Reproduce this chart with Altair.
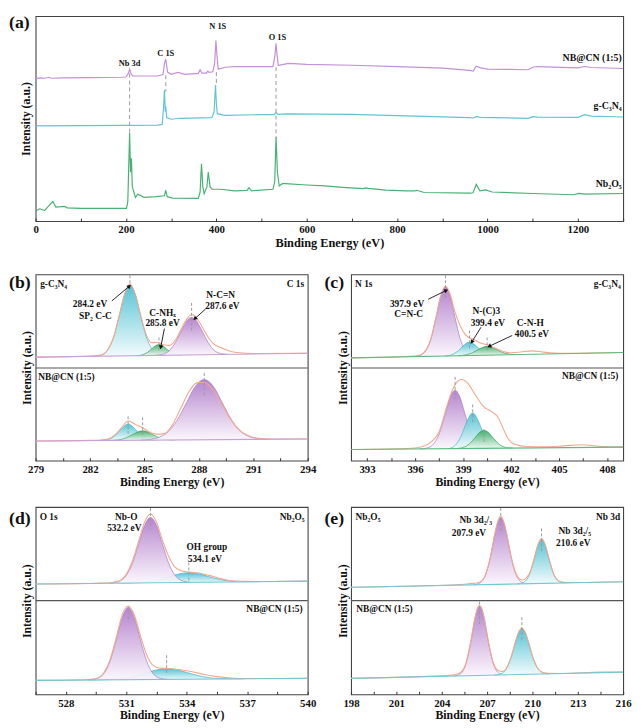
import math
import altair as alt
import pandas as pd

FONT = "'Liberation Serif', 'DejaVu Serif', serif"
INK = "#111111"

# ---------------- (a) survey spectra ----------------
sv_nbcn_ev = [0, 10, 20, 30, 35, 60, 120, 190, 200, 205, 208, 211, 215, 240, 270, 282, 285, 288, 290, 292,
              300, 315, 330, 360, 364, 368, 378, 381, 384, 392, 396, 399, 401, 404, 420, 440, 500, 525, 529, 532,
              534, 537, 545, 560, 600, 700, 800, 900, 960, 968, 975, 985, 1000, 1050, 1090, 1100, 1110, 1200, 1215, 1230,
              1300]
sv_nbcn_i = [146.0, 146.6, 146.3, 147.3, 146.3, 146.6, 147.0, 147.3, 147.6, 151.0, 155.6, 151.0, 148.6, 148.6, 148.6, 150.0, 161.0, 166.0, 159.3, 152.6,
             150.3, 152.3, 150.3, 151.3, 155.0, 151.6, 151.6, 153.6, 152.3, 153.0, 161.0, 185.0, 171.0, 155.6, 157.6, 158.3, 158.3, 158.3, 167.6, 182.0,
             171.0, 159.3, 160.3, 161.6, 160.6, 159.6, 158.3, 156.6, 154.3, 153.6, 158.6, 157.0, 155.6, 155.3, 155.0, 157.6, 158.3, 157.0, 158.3, 157.3,
             156.3]
sv_cn_ev = [0, 100, 200, 270, 280, 283, 285, 287, 288, 290, 300, 320, 390, 395, 398, 400, 402, 418, 500, 528,
            532, 536, 555, 700, 960, 968, 975, 985, 1090, 1100, 1110, 1200, 1215, 1230, 1300]
sv_cn_i = [97.6, 97.8, 98.0, 98.3, 99.0, 115.0, 134.3, 112.0, 117.6, 106.0, 104.3, 105.3, 106.0, 112.0, 139.3, 120.0, 110.0, 108.3, 109.0, 109.0,
           111.5, 109.3, 109.8, 109.3, 106.0, 105.6, 107.0, 106.3, 105.3, 107.0, 106.5, 106.3, 109.0, 107.5, 106.6]
sv_nb_ev = [0, 9, 15, 20, 38, 45, 64, 70, 100, 150, 201, 204, 208, 210, 212, 214, 221, 226, 240, 266,
            285, 288, 291, 303, 360, 364, 367, 370, 373, 379, 382, 386, 391, 410, 440, 468, 472, 478, 525, 529,
            532, 535, 539, 546, 552, 600, 640, 680, 725, 731, 736, 775, 820, 839, 843, 860, 960, 968, 975, 983,
            996, 1010, 1100, 1190, 1202, 1215, 1300]
sv_nb_i = [10.3, 12.6, 11.6, 11.0, 20.0, 14.3, 15.0, 13.6, 13.0, 13.0, 13.0, 20.0, 90.3, 50.0, 64.3, 35.0, 24.3, 27.6, 24.3, 25.0,
           26.0, 31.6, 25.0, 23.6, 23.3, 30.0, 58.6, 35.0, 28.0, 35.0, 50.3, 35.0, 32.6, 32.6, 31.0, 31.5, 34.3, 31.0, 32.6, 40.0,
           86.0, 50.0, 36.0, 38.3, 38.3, 37.0, 36.0, 34.6, 33.3, 34.0, 33.6, 31.8, 31.0, 31.0, 31.6, 29.3, 28.6, 29.0, 37.6, 31.0,
           32.0, 29.8, 28.3, 27.0, 28.3, 27.6, 28.3]
sv_samples = ["NB@CN (1:5)", "g-C₃N₄", "Nb₂O₅"]
sv_colors = ["#c490d9", "#5fc6d3", "#48b274"]
sv_label_ev = [1297, 1297, 1297]
sv_label_v = [167, 118, 38]
sv_peak_text = ["Nb 3d", "C 1S", "N 1S", "O 1S"]
sv_peak_ev = [208, 288, 403, 535]
sv_peak_v = [162, 172.5, 199.5, 189]
sv_dash_ev = [208, 288, 400, 532]
sv_dash_top = [151, 149.3, 152.6, 157.6]
sv_dash_bot = [89.3, 132.6, 138.3, 85]
sv_ticks = list(range(0, 1301, 100))

# ---------------- (b) C 1s ----------------
b_dom = [279, 294]
b_ticks = [279 + 1.5 * k for k in range(11)]
b_top_base = [105, 109]
b_bot_base = [20, 22]
b_top_cyan_ev = [282.2, 282.6, 283.0, 283.3, 283.6, 283.9, 284.2, 284.5, 284.8, 285.1, 285.4, 285.8, 286.2]
b_top_cyan_h = [0, 1, 7, 19, 40, 62, 72, 62, 40, 19, 7, 1, 0]
b_top_green_ev = [284.6, 285.0, 285.3, 285.5, 285.8, 286.1, 286.3, 286.6, 287.0]
b_top_green_h = [0, 1.5, 5, 8.3, 11, 8.3, 5, 1.5, 0]
b_top_purple_ev = [285.6, 286.0, 286.4, 286.8, 287.1, 287.4, 287.6, 287.8, 288.1, 288.4, 288.8, 289.2, 289.6]
b_top_purple_h = [0, 1, 5, 16, 27, 36, 38, 36, 27, 16, 5, 1, 0]
b_top_env_ev = [279, 282, 282.6, 283.0, 283.3, 283.6, 283.9, 284.2, 284.5, 284.8, 285.1, 285.4, 285.7, 286.0,
                286.4, 286.8, 287.1, 287.4, 287.6, 287.8, 288.1, 288.4, 288.8, 289.2, 289.6, 290.2, 291, 294]
b_top_env_h = [0, 0.3, 1.2, 7, 19, 40, 62, 73, 62, 40, 21, 13, 13, 11,
               10, 18, 29, 38, 41, 39, 31, 21, 11, 7, 4, 1.5, 0.5, 0]
b_bot_cyan_ev = [282.6, 283.0, 283.4, 283.7, 284.1, 284.5, 284.8, 285.2, 285.6]
b_bot_cyan_h = [0, 0.8, 5, 11, 16.5, 11, 5, 0.8, 0]
b_bot_green_ev = [283.1, 283.6, 284.0, 284.4, 284.9, 285.4, 285.8, 286.2, 286.7]
b_bot_green_h = [0, 0.6, 2.5, 6.3, 9.5, 6.3, 2.5, 0.6, 0]
b_bot_purple_ev = [284.8, 285.3, 285.8, 286.3, 286.8, 287.3, 287.8, 288.3, 288.8, 289.3, 289.8, 290.3, 290.8, 291.3, 291.8]
b_bot_purple_h = [0, 0.7, 2.7, 8.3, 20, 37, 54, 61, 54, 37, 20, 8.3, 2.7, 0.7, 0]
b_bot_env_ev = [279, 282, 282.6, 283.0, 283.4, 283.7, 284.1, 284.5, 284.9, 285.3, 285.7, 286.1, 286.5, 287.0,
                287.5, 287.9, 288.3, 288.7, 289.2, 289.7, 290.2, 290.7, 291.3, 292, 294]
b_bot_env_h = [0, 0.2, 0.5, 1.5, 6, 12, 19.5, 16, 12.5, 8, 6, 6.5, 14, 32,
               50, 58, 58, 52, 38, 22, 10, 4, 1, 0.3, 0]
b_dash_ev = [284.2, 285.8, 287.6, 284.1, 284.9, 288.3]
b_dash_top = [188, 125, 160, 45, 44, 89]
b_dash_bot = [172, 112, 130, 27, 25, 65]
b_text = ["284.2 eV", "SP₂ C-C", "C-NHₓ", "285.8 eV", "N-C=N", "287.6 eV", "g-C₃N₄", "C 1s", "NB@CN (1:5)"]
b_text_ev = [282.0, 282.3, 286.0, 286.0, 289.2, 289.3, 279.25, 293.8, 279.15]
b_text_v = [159, 147, 150, 140, 168, 157, 179, 179, 85]
b_text_align = ["center", "center", "center", "center", "center", "center", "left", "right", "left"]
b_arrow_ev = [283.2, 286.1, 288.38]
b_arrow_v = [162, 134, 154]
b_arrow_ev2 = [284.17, 285.9, 287.78]
b_arrow_v2 = [177, 115, 144]

# ---------------- (c) N 1s ----------------
c_dom = [392, 409]
c_ticks = [393 + 1.5 * k for k in range(11)]
c_top_base = [104.3, 109.7]
c_bot_base = [11.3, 13.7]
c_top_purple_ev = [395.9, 396.3, 396.7, 397.0, 397.3, 397.6, 397.9, 398.2, 398.5, 398.8, 399.1, 399.5, 399.9]
c_top_purple_h = [0, 1, 6.5, 18, 38.5, 60, 70, 60, 38.5, 18, 6.5, 1, 0]
c_top_cyan_ev = [397.9, 398.3, 398.7, 399.0, 399.4, 399.8, 400.1, 400.5, 400.9]
c_top_cyan_h = [0, 1.2, 5.1, 9.9, 13.6, 9.9, 5.1, 1.2, 0]
c_top_green_ev = [398.7, 399.2, 399.6, 400.0, 400.5, 401.0, 401.4, 401.8, 402.3]
c_top_green_h = [0, 0.9, 2.9, 6.4, 9, 6.4, 2.9, 0.9, 0]
c_top_env_ev = [392, 395, 395.9, 396.3, 396.7, 397.0, 397.3, 397.6, 397.9, 398.2, 398.5, 398.8, 399.1,
                399.4, 399.7, 400.0, 400.5, 401.0, 401.5, 402.0, 402.6, 403.3, 404.0, 405, 409]
c_top_env_h = [0, 0.2, 0.5, 1.5, 7, 18.5, 39, 61, 71, 62, 44, 31, 22,
               18, 16, 13, 10.5, 7, 3.5, 2, 2.5, 3.5, 2, 0.5, 0]
c_bot_purple_ev = [396.3, 396.7, 397.1, 397.5, 397.9, 398.2, 398.5, 398.8, 399.1, 399.5, 399.9, 400.3, 400.7]
c_bot_purple_h = [0, 0.7, 3.9, 14.8, 36, 52.3, 59.3, 52.3, 36, 14.8, 3.9, 0.7, 0]
c_bot_cyan_ev = [398.1, 398.5, 398.9, 399.2, 399.6, 400.0, 400.3, 400.7, 401.1]
c_bot_cyan_h = [0, 3.2, 13.5, 26.1, 36, 26.1, 13.5, 3.2, 0]
c_bot_green_ev = [398.5, 398.9, 399.3, 399.7, 400.0, 400.3, 400.6, 400.9, 401.3, 401.7, 402.1]
c_bot_green_h = [0, 0.7, 3.5, 10.1, 15.8, 18.3, 15.8, 10.1, 3.5, 0.7, 0]
c_bot_env_ev = [392, 395.5, 396.5, 397.0, 397.5, 398.0, 398.4, 398.9, 399.3, 399.7, 400.3, 400.8, 401.2,
                401.5, 401.8, 402.2, 403, 404, 405.3, 406.4, 407.5, 409]
c_bot_env_h = [0, 0.5, 2.5, 7, 17, 44, 62, 70, 66, 56, 42, 37, 31,
               20, 10, 4, 1.5, 1, 1.8, 2.8, 1.2, 0.3]
c_dash_ev = [397.9, 399.4, 400.5, 398.5, 399.6, 400.3]
c_dash_top = [188, 132, 125, 85, 57, 32]
c_dash_bot = [165, 114, 112, 60, 37, 17]
c_text = ["397.9 eV", "C=N-C", "N-(C)3", "399.4 eV", "C-N-H", "400.5 eV", "N 1s", "g-C₃N₄", "NB@CN (1:5)"]
c_text_ev = [395.5, 395.6, 400.45, 400.55, 403.2, 403.3, 392.25, 408.85, 408.7]
c_text_v = [159, 149, 152, 140, 140, 128, 179, 179, 86]
c_text_align = ["center", "center", "center", "center", "center", "center", "left", "right", "right"]
c_arrow_ev = [396.82, 400.12, 402.07]
c_arrow_v = [163.7, 135.3, 127]
c_arrow_ev2 = [397.95, 399.54, 400.63]
c_arrow_v2 = [172.7, 120.3, 116]

# ---------------- (d) O 1s ----------------
d_dom = [526.5, 540]
d_ticks = [526.5 + 1.5 * k for k in range(10)]
d_top_base = [113, 116]
d_bot_base = [14.3, 16.3]
d_top_cyan_ev = [530.6, 531.3, 532.0, 532.6, 533.1, 533.6, 534.1, 534.6, 535.1, 535.6, 536.1, 536.9, 537.6]
d_top_cyan_h = [0, 0.1, 0.9, 2.9, 5.7, 8.7, 10, 8.7, 5.7, 2.9, 0.9, 0.1, 0]
d_top_purple_ev = [530.2, 530.6, 531.0, 531.3, 531.6, 531.9, 532.2, 532.5, 532.8, 533.1, 533.4, 533.8, 534.2]
d_top_purple_h = [0, 1.5, 7.9, 20, 39, 58.6, 67, 58.6, 39, 20, 7.9, 1.5, 0]
d_top_env_ev = [526.5, 529.5, 530.2, 530.6, 531.0, 531.3, 531.6, 531.9, 532.2, 532.5, 532.8, 533.1, 533.4,
                533.8, 534.2, 534.6, 535.1, 535.6, 536.1, 536.9, 537.6, 540]
d_top_env_h = [0, 0.2, 0.6, 2, 9, 22, 42, 62, 70.5, 62, 43, 27, 16,
               11.5, 10.5, 9.5, 7, 4, 1.5, 0.5, 0.2, 0]
d_bot_cyan_ev = [529.2, 530.0, 530.8, 531.5, 532.0, 532.5, 533.0, 533.5, 534.0, 534.5, 535.2, 536.0, 536.8]
d_bot_cyan_h = [0, 0.2, 1.2, 4, 7, 9.8, 11, 9.8, 7, 4, 1.2, 0.2, 0]
d_bot_purple_ev = [529.1, 529.5, 529.9, 530.2, 530.5, 530.8, 531.1, 531.4, 531.7, 532.0, 532.3, 532.7, 533.1]
d_bot_purple_h = [0, 1.1, 6.8, 19.4, 40.8, 63.8, 74, 63.8, 40.8, 19.4, 6.8, 1.1, 0]
d_bot_env_ev = [526.5, 529.0, 529.5, 529.9, 530.2, 530.5, 530.8, 531.1, 531.4, 531.7, 532.0, 532.3, 532.7,
                533.1, 533.6, 534.2, 534.8, 535.5, 536.2, 537, 540]
d_bot_env_h = [0, 0.3, 1.5, 7.8, 21, 43, 67, 75.5, 66, 45, 26, 15, 11.5,
               11.2, 10, 8, 5, 2.5, 1, 0.3, 0]
d_dash_ev = [532.2, 534.1, 531.1, 533.0]
d_dash_top = [191, 135, 90, 40]
d_dash_bot = [169, 117, 74, 20]
d_text = ["Nb-O", "532.2 eV", "OH group", "534.1 eV", "O 1s", "Nb₂O₅", "NB@CN (1:5)"]
d_text_ev = [531.0, 530.9, 535.0, 534.9, 526.7, 539.85, 539.75]
d_text_v = [182, 170.5, 150.5, 139, 182, 182, 87.7]
d_text_align = ["center", "center", "center", "center", "left", "right", "right"]

# ---------------- (e) Nb 3d ----------------
e_dom = [198, 216]
e_ticks = [198 + 1.5 * k for k in range(13)]
e_top_base = [109.7, 115.3]
e_bot_base = [16.3, 22.7]
e_top_purple_ev = [206.1, 206.5, 206.9, 207.2, 207.5, 207.7, 207.9, 208.1, 208.3, 208.6, 208.9, 209.3, 209.7]
e_top_purple_h = [0, 1.6, 10, 26.7, 50.4, 63.4, 68.5, 63.4, 50.4, 26.7, 10, 1.6, 0]
e_top_cyan_ev = [209.0, 209.4, 209.8, 210.1, 210.4, 210.6, 210.8, 211.1, 211.4, 211.8, 212.2]
e_top_cyan_h = [0, 1.3, 9.3, 24.3, 40.8, 45, 40.8, 24.3, 9.3, 1.3, 0]
e_top_env_ev = [198, 203, 205.5, 206.1, 206.5, 206.9, 207.2, 207.5, 207.7, 207.9, 208.1, 208.3, 208.6, 208.9,
                209.3, 209.6, 209.9, 210.1, 210.4, 210.6, 210.8, 211.1, 211.4, 211.8, 212.2, 213, 216]
e_top_env_h = [0, 0, 0.8, 1.5, 2.5, 10.5, 27, 51, 64, 70, 64, 51, 27.5, 11,
               4, 6, 14, 25, 41.5, 46, 41.5, 25, 9.8, 1.8, 0.5, 0.2, 0]
e_bot_purple_ev = [204.8, 205.2, 205.6, 205.9, 206.2, 206.35, 206.5, 206.65, 206.8, 207.1, 207.4, 207.8, 208.2]
e_bot_purple_h = [0, 1.8, 12.2, 32.5, 58.4, 67.6, 71, 67.6, 58.4, 32.5, 12.2, 1.8, 0]
e_bot_cyan_ev = [207.5, 207.9, 208.3, 208.6, 208.9, 209.1, 209.3, 209.5, 209.7, 210.0, 210.3, 210.7, 211.1]
e_bot_cyan_h = [0, 1.1, 6.9, 18.3, 34.5, 43.5, 47, 43.5, 34.5, 18.3, 6.9, 1.1, 0]
e_bot_env_ev = [198, 203, 204.5, 204.8, 205.2, 205.6, 205.9, 206.2, 206.35, 206.5, 206.65, 206.8, 207.1, 207.4, 207.8,
                208.0, 208.3, 208.6, 208.9, 209.1, 209.3, 209.5, 209.7, 210.0, 210.3, 210.7, 211.1, 212, 214.5, 216]
e_bot_env_h = [0, 0.3, 0.8, 1.2, 3, 13, 33.5, 59.5, 68.5, 72, 68.5, 59.5, 33.5, 13, 4,
               3.5, 7.5, 18.8, 35, 44, 47.5, 44, 35, 18.8, 7.3, 1.5, 0.5, 0.1, 0.6, 0.2]
e_dash_ev = [207.9, 210.6, 206.5, 209.3]
e_dash_top = [191, 170, 95, 79]
e_dash_bot = [167, 145, 72, 54]
e_text = ["Nb 3d₂/₃", "207.9 eV", "Nb 3d₂/₅", "210.6 eV", "Nb₂O₅", "Nb 3d", "NB@CN (1:5)"]
e_text_ev = [206.25, 205.8, 212.8, 212.7, 198.3, 215.8, 198.35]
e_text_v = [178.7, 165.3, 167, 155.3, 182, 182, 87.7]
e_text_align = ["center", "center", "center", "center", "left", "right", "left"]

# ---------------- styling ----------------
COMP_TOP = {"purple": "#b07dca", "cyan": "#4bbfd1", "green": "#3aab66"}
COMP_BOT = {"purple": "#fbf6fd", "cyan": "#f1fbfc", "green": "#eff9f2"}
COMP_EDGE = {"purple": "#a979c3", "cyan": "#46b4c5", "green": "#37a160"}
ENV_COLOR = "#f3a88c"
DIV_COLOR = "#555555"
DASH_COLOR = "#9a9a9a"


def grad(kind):
    return alt.Gradient(
        gradient="linear",
        stops=[alt.GradientStop(color=COMP_BOT[kind], offset=0),
               alt.GradientStop(color=COMP_TOP[kind], offset=1)],
        x1=1, x2=1, y1=1, y2=0,
    )


def x_axis(values, label_expr, fmt=None, title_size=12):
    kw = dict(values=values, labelExpr=label_expr, tickSize=3, offset=-3, domain=False, grid=False,
              tickColor="#333333", tickWidth=1, labelFont=FONT, labelFontWeight="bold", labelFontSize=11,
              labelColor=INK, labelPadding=3, labelFlush=False, labelOverlap=False,
              title="Binding Energy (eV)", titleFont=FONT, titleFontWeight="bold", titleFontSize=title_size,
              titleColor=INK, titlePadding=2)
    if fmt:
        kw["format"] = fmt
    return alt.Axis(**kw)


def y_axis(pad=2):
    return alt.Axis(labels=False, ticks=False, domain=False, grid=False, title="Intensity (a.u.)",
                    titleFont=FONT, titleFontWeight="bold", titleFontSize=12, titleColor=INK, titlePadding=pad)


def panel_label(text, y):
    return alt.Chart(pd.DataFrame({"t": [text]})).mark_text(
        align="left", baseline="top", font=FONT, fontWeight="bold", fontSize=18, color=INK
    ).encode(text="t:N", x=alt.value(-27), y=alt.value(y))


def text_layers(texts, evs, vs, aligns, xenc, yenc, size):
    df = pd.DataFrame({"t": texts, "ev": evs, "v": vs, "al": aligns})
    out = []
    for al in ["left", "center", "right"]:
        sub = df[df["al"] == al]
        if len(sub) == 0:
            continue
        out.append(alt.Chart(sub).mark_text(align=al, baseline="middle", font=FONT, fontWeight="bold",
                                            fontSize=size, color=INK).encode(x=xenc, y=yenc, text="t:N"))
    return out


# ---------------- panel (a) ----------------
A_W, A_H = 596, 208
a_x = alt.X("ev:Q", scale=alt.Scale(domain=[0, 1300], nice=False, zero=False),
            axis=x_axis(sv_ticks, "datum.value % 200 === 0 ? datum.label : ''", fmt="d", title_size=12.5))
a_y = alt.Y("v:Q", scale=alt.Scale(domain=[0, 210], nice=False, zero=False), axis=y_axis(3))

sv_frames = []
for name, ev, iv in zip(sv_samples, [sv_nbcn_ev, sv_cn_ev, sv_nb_ev], [sv_nbcn_i, sv_cn_i, sv_nb_i]):
    sv_frames.append(pd.DataFrame({"ev": ev, "v": iv, "sample": name}))
sv_df = pd.concat(sv_frames, ignore_index=True)

a_lines = alt.Chart(sv_df).mark_line(strokeWidth=1.2, interpolate="linear").encode(
    x=a_x, y=a_y,
    color=alt.Color("sample:N", scale=alt.Scale(domain=sv_samples, range=sv_colors), legend=None),
    detail="sample:N",
)
a_dash = alt.Chart(pd.DataFrame({"ev": sv_dash_ev, "v": sv_dash_top, "v2": sv_dash_bot})).mark_rule(
    color=DASH_COLOR, strokeDash=[4, 3], strokeWidth=1
).encode(x=a_x, y=a_y, y2="v2:Q")
a_peaks = alt.Chart(pd.DataFrame({"t": sv_peak_text, "ev": sv_peak_ev, "v": sv_peak_v})).mark_text(
    font=FONT, fontWeight="bold", fontSize=8.5, color=INK, baseline="middle"
).encode(x=a_x, y=a_y, text="t:N")
a_names = alt.Chart(pd.DataFrame({"t": sv_samples, "ev": sv_label_ev, "v": sv_label_v})).mark_text(
    font=FONT, fontWeight="bold", fontSize=10, color=INK, align="right", baseline="middle"
).encode(x=a_x, y=a_y, text="t:N")

panel_a = alt.layer(a_lines, a_dash, a_peaks, a_names, panel_label("(a)", -2)).properties(width=A_W, height=A_H)


# ---------------- detail panels ----------------
def detail_panel(dom, ydom, w, h, ticks, divider, spectra, baseline_color, dash, texts, arrows, plabel, plabel_y):
    xenc = alt.X("ev:Q", scale=alt.Scale(domain=dom, nice=False, zero=False),
                 axis=x_axis(ticks, "datum.value % 3 === 0 ? datum.label : ''"))
    yenc = alt.Y("v:Q", scale=alt.Scale(domain=ydom, nice=False, zero=False), axis=y_axis(2))
    layers = []
    for sp in spectra:
        b0, b1 = sp["base"]

        def base_at(e, b0=b0, b1=b1):
            return b0 + (e - dom[0]) / (dom[1] - dom[0]) * (b1 - b0)

        for ev, hh, kind in sp["comps"]:
            df = pd.DataFrame({"ev": ev,
                               "v": [base_at(e) + q for e, q in zip(ev, hh)],
                               "v2": [base_at(e) for e in ev]})
            layers.append(alt.Chart(df).mark_area(
                interpolate="monotone", color=grad(kind), opacity=0.93,
                line=alt.OverlayMarkDef(color=COMP_EDGE[kind], strokeWidth=0.7)
            ).encode(x=xenc, y=yenc, y2="v2:Q"))
        env_ev, env_h = sp["env"]
        env_df = pd.DataFrame({"ev": env_ev, "v": [base_at(e) + q for e, q in zip(env_ev, env_h)]})
        layers.append(alt.Chart(env_df).mark_line(interpolate="monotone", color=ENV_COLOR, strokeWidth=1.1)
                      .encode(x=xenc, y=yenc))
        bl_df = pd.DataFrame({"ev": dom, "v": [b0, b1]})
        layers.append(alt.Chart(bl_df).mark_line(color=baseline_color, strokeWidth=1.1)
                      .encode(x=xenc, y=yenc))
    layers.append(alt.Chart(pd.DataFrame({"v": [divider]})).mark_rule(color=DIV_COLOR, strokeWidth=1.2)
                  .encode(y=yenc))
    d_ev, d_top, d_bot = dash
    layers.append(alt.Chart(pd.DataFrame({"ev": d_ev, "v": d_top, "v2": d_bot})).mark_rule(
        color=DASH_COLOR, strokeDash=[3, 2], strokeWidth=1).encode(x=xenc, y=yenc, y2="v2:Q"))
    if arrows is not None:
        a_ev, a_v, a_ev2, a_v2 = arrows
        sx = w / (dom[1] - dom[0])
        sy = h / (ydom[1] - ydom[0])
        angs = []
        for e1, v1, e2, v2 in zip(a_ev, a_v, a_ev2, a_v2):
            dxp = (e2 - e1) * sx
            dyp = -(v2 - v1) * sy
            angs.append(math.degrees(math.atan2(dxp, -dyp)) % 360)
        layers.append(alt.Chart(pd.DataFrame({"ev": a_ev, "v": a_v, "ev2": a_ev2, "v2": a_v2})).mark_rule(
            color=INK, strokeWidth=0.9).encode(x=xenc, y=yenc, x2="ev2:Q", y2="v2:Q"))
        layers.append(alt.Chart(pd.DataFrame({"ev": a_ev2, "v": a_v2, "ang": angs})).mark_point(
            shape="triangle-up", filled=True, color=INK, size=22, opacity=1).encode(
            x=xenc, y=yenc, angle=alt.Angle("ang:Q", scale=None)))
    t, tev, tv, tal = texts
    layers.extend(text_layers(t, tev, tv, tal, xenc, yenc, 9.5))
    layers.append(panel_label(plabel, plabel_y))
    return alt.layer(*layers).properties(width=w, height=h)


W2 = 276
panel_b = detail_panel(
    b_dom, [0, 189], W2, 189, b_ticks, 94,
    [
        {"base": b_top_base, "env": (b_top_env_ev, b_top_env_h),
         "comps": [(b_top_cyan_ev, b_top_cyan_h, "cyan"), (b_top_green_ev, b_top_green_h, "green"),
                   (b_top_purple_ev, b_top_purple_h, "purple")]},
        {"base": b_bot_base, "env": (b_bot_env_ev, b_bot_env_h),
         "comps": [(b_bot_cyan_ev, b_bot_cyan_h, "cyan"), (b_bot_green_ev, b_bot_green_h, "green"),
                   (b_bot_purple_ev, b_bot_purple_h, "purple")]},
    ],
    "#c9a0dc",
    (b_dash_ev, b_dash_top, b_dash_bot),
    (b_text, b_text_ev, b_text_v, b_text_align),
    (b_arrow_ev, b_arrow_v, b_arrow_ev2, b_arrow_v2),
    "(b)", 0,
)
panel_c = detail_panel(
    c_dom, [0, 189], W2, 189, c_ticks, 94,
    [
        {"base": c_top_base, "env": (c_top_env_ev, c_top_env_h),
         "comps": [(c_top_purple_ev, c_top_purple_h, "purple"), (c_top_cyan_ev, c_top_cyan_h, "cyan"),
                   (c_top_green_ev, c_top_green_h, "green")]},
        {"base": c_bot_base, "env": (c_bot_env_ev, c_bot_env_h),
         "comps": [(c_bot_purple_ev, c_bot_purple_h, "purple"), (c_bot_cyan_ev, c_bot_cyan_h, "cyan"),
                   (c_bot_green_ev, c_bot_green_h, "green")]},
    ],
    "#5dbb7f",
    (c_dash_ev, c_dash_top, c_dash_bot),
    (c_text, c_text_ev, c_text_v, c_text_align),
    (c_arrow_ev, c_arrow_v, c_arrow_ev2, c_arrow_v2),
    "(c)", 0,
)
panel_d = detail_panel(
    d_dom, [0, 192], W2, 190, d_ticks, 96,
    [
        {"base": d_top_base, "env": (d_top_env_ev, d_top_env_h),
         "comps": [(d_top_cyan_ev, d_top_cyan_h, "cyan"), (d_top_purple_ev, d_top_purple_h, "purple")]},
        {"base": d_bot_base, "env": (d_bot_env_ev, d_bot_env_h),
         "comps": [(d_bot_cyan_ev, d_bot_cyan_h, "cyan"), (d_bot_purple_ev, d_bot_purple_h, "purple")]},
    ],
    "#6fcad6",
    (d_dash_ev, d_dash_top, d_dash_bot),
    (d_text, d_text_ev, d_text_v, d_text_align),
    None,
    "(d)", 3,
)
panel_e = detail_panel(
    e_dom, [0, 192], W2, 190, e_ticks, 96,
    [
        {"base": e_top_base, "env": (e_top_env_ev, e_top_env_h),
         "comps": [(e_top_purple_ev, e_top_purple_h, "purple"), (e_top_cyan_ev, e_top_cyan_h, "cyan")]},
        {"base": e_bot_base, "env": (e_bot_env_ev, e_bot_env_h),
         "comps": [(e_bot_purple_ev, e_bot_purple_h, "purple"), (e_bot_cyan_ev, e_bot_cyan_h, "cyan")]},
    ],
    "#6fcad6",
    (e_dash_ev, e_dash_top, e_dash_bot),
    (e_text, e_text_ev, e_text_v, e_text_align),
    None,
    "(e)", 3,
)

row_bc = alt.hconcat(panel_b, panel_c, spacing=44, bounds="flush")
row_de = alt.hconcat(panel_d, panel_e, spacing=44, bounds="flush")
lower = alt.vconcat(row_bc, row_de, spacing=18)
chart = alt.vconcat(panel_a, lower, spacing=23).properties(
    padding={"left": 0, "top": 0, "right": 2, "bottom": 0}, background="white"
).configure_view(stroke="#444444", strokeWidth=1.1)

chart.save("out.html", embed_options={"renderer": "svg", "actions": False})
